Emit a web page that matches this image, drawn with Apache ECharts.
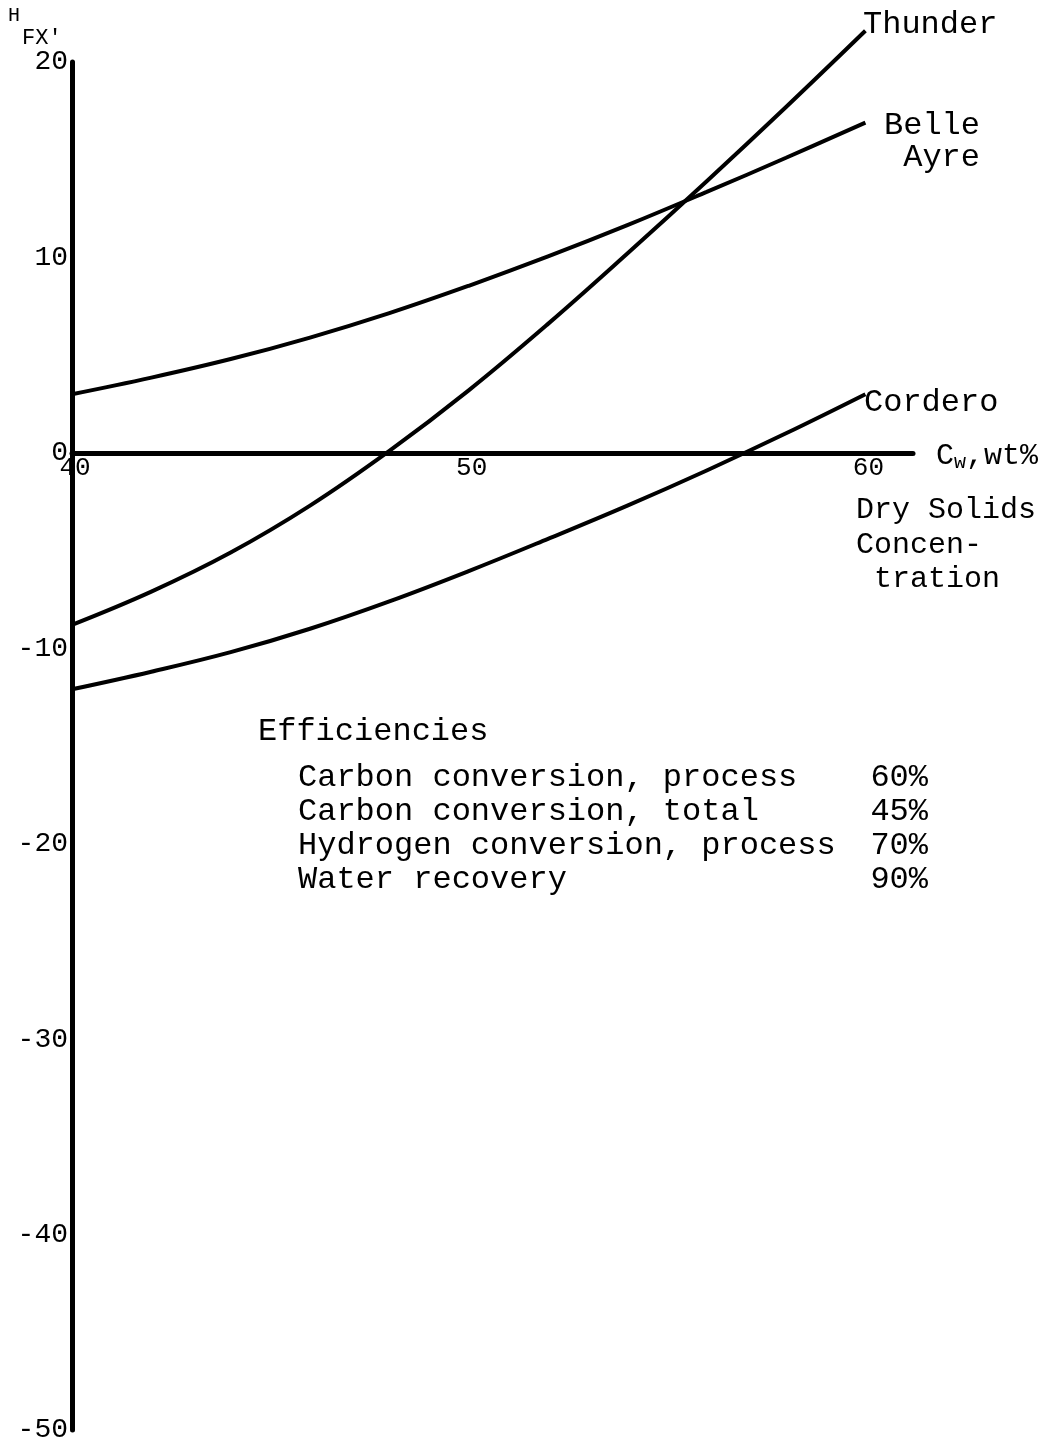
<!DOCTYPE html>
<html>
<head>
<meta charset="utf-8">
<script src="https://cdn.jsdelivr.net/npm/echarts@6/dist/echarts.min.js"></script>
<style>
html,body{margin:0;padding:0;background:#fff;overflow:hidden;}
#chart{width:1060px;height:1439px;}
</style>
</head>
<body>
<div id="chart"></div>
<script>
var xValues = [40, 42, 44, 46, 48, 50, 52, 54, 56, 58, 60];
var thunder = [-8.8, -7.1, -5.1, -2.7, 0.1, 3.2, 6.6, 10.2, 13.9, 17.7, 21.6];
var belleAyre = [3.0, 3.85, 4.8, 5.9, 7.15, 8.55, 10.05, 11.65, 13.35, 15.1, 16.9];
var cordero = [-12.1, -11.2, -10.2, -9.0, -7.6, -6.05, -4.4, -2.7, -0.9, 1.0, 3.0];
var xTicks = [40, 50, 60];
var yTicks = [20, 10, 0, -10, -20, -30, -40, -50];
var efficiencyNames = ['Carbon conversion, process', 'Carbon conversion, total', 'Hydrogen conversion, process', 'Water recovery'];
var efficiencyValues = ['60%', '45%', '70%', '90%'];

function pairs(ys) { return xValues.map(function (x, i) { return [x, ys[i]]; }); }

var FONT = '"Liberation Mono", "DejaVu Sans Mono", monospace';
var chart = echarts.init(document.getElementById('chart'), null, {renderer: 'canvas'});

function series(name, ys) {
  return {name: name, type: 'line', data: pairs(ys), smooth: 0.4, symbol: 'none',
    clip: false, lineStyle: {color: '#000', width: 4}, z: 3, animation: false};
}

chart.setOption({
  animation: false,
  backgroundColor: '#fff',
  grid: {left: 72, right: 147, top: 62, bottom: 9, containLabel: false, outerBoundsMode: 'none'},
  xAxis: {type: 'value', min: 40, max: 61.2, interval: 10,
    axisLine: {onZero: true, lineStyle: {color: '#000', width: 5}},
    axisTick: {show: false}, splitLine: {show: false},
    axisLabel: {show: false}
  },
  yAxis: {type: 'value', min: -50, max: 20, interval: 10,
    axisLine: {show: true, onZero: false, lineStyle: {color: '#000', width: 5}},
    axisTick: {show: false}, splitLine: {show: false},
    axisLabel: {color: '#000', fontFamily: FONT, fontSize: 28, margin: 4,
      formatter: function (v) { return yTicks.indexOf(v) >= 0 ? String(v) : ''; }}
  },
  series: [series('Thunder', thunder), series('Belle Ayre', belleAyre), series('Cordero', cordero)]
});

var graphics = [];
function addText(x, y, text, size, align, rich) {
  var g = {type: 'text', x: x, y: y, z: 10, style: {
    text: text, fontFamily: FONT, fontSize: size || 32, fill: '#000',
    align: align || 'left', verticalAlign: 'middle'}};
  if (rich) g.style.rich = rich;
  graphics.push(g);
}
// x tick labels placed through the chart's own scale, just under the zero line
xTicks.forEach(function (t) {
  var p = chart.convertToPixel({gridIndex: 0}, [t, 0]);
  addText(p[0] + 3, p[1] + 15, String(t), 26, 'center');
});
addText(863, 25, 'Thunder');
addText(980, 126, 'Belle', 32, 'right');
addText(980, 158, 'Ayre', 32, 'right');
addText(864, 403, 'Cordero');
addText(936, 456, '{c|C}{s|w}{c|,wt%}', 32, 'left', {
  c: {fontFamily: FONT, fontSize: 30, fill: '#000'},
  s: {fontFamily: FONT, fontSize: 20, fill: '#000', padding: [14, 0, 0, 0]}
});
addText(856, 510, 'Dry Solids', 30);
addText(856, 545, 'Concen-', 30);
addText(874, 579, 'tration', 30);
addText(8, 16, 'H', 20);
addText(22, 38, "FX'", 22);
addText(258, 732, 'Efficiencies');
efficiencyNames.forEach(function (n, i) {
  addText(298, 778 + i * 34, n);
  addText(928, 778 + i * 34, efficiencyValues[i], 32, 'right');
});
chart.setOption({graphic: graphics});
</script>
</body>
</html>
